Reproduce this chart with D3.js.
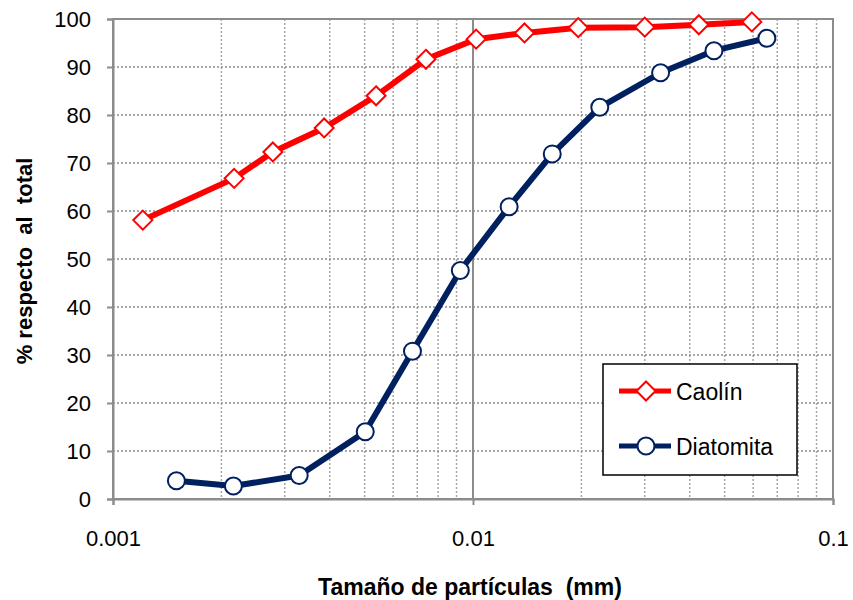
<!DOCTYPE html>
<html>
<head>
<meta charset="utf-8">
<script src="https://cdn.jsdelivr.net/npm/d3@7"></script>
<style>
  body { margin: 0; background: #fff; }
  svg { font-family: "Liberation Sans", Arial, sans-serif; }
</style>
</head>
<body>
<svg id="chart" width="853" height="600"></svg>
<script>
// data
const caolinX = [0.00121, 0.00217, 0.00278, 0.00386, 0.00538, 0.0074, 0.0102, 0.0139, 0.0196, 0.0300, 0.0424, 0.0595];
const caolinY = [58.1, 66.8, 72.3, 77.3, 84.0, 91.6, 95.8, 97.1, 98.2, 98.3, 98.8, 99.4];
const diatX = [0.00150, 0.00216, 0.00329, 0.00502, 0.00679, 0.00922, 0.0126, 0.0166, 0.0225, 0.0332, 0.0467, 0.0655];
const diatY = [3.8, 2.7, 4.9, 14.0, 30.8, 47.6, 60.9, 71.9, 81.6, 88.8, 93.4, 96.0];
const xTicks = [0.001, 0.01, 0.1];
const xTickLabels = ["0.001", "0.01", "0.1"];
const yTicks = [0, 10, 20, 30, 40, 50, 60, 70, 80, 90, 100];

const w = 853, h = 600;
const pLeft = 113, pRight = 833, pTop = 19, pBottom = 499;

const x = d3.scaleLog().domain([0.001, 0.1]).range([pLeft, pRight]);
const y = d3.scaleLinear().domain([0, 100]).range([pBottom, pTop]);

const svg = d3.select("#chart");

// minor vertical grid (2..9 in every decade)
const minor = [];
[0.001, 0.01].forEach(d => { for (let k = 2; k <= 9; k++) minor.push(d * k); });
svg.append("g").selectAll("line")
  .data(minor).enter().append("line")
  .attr("x1", d => x(d)).attr("x2", d => x(d))
  .attr("y1", pTop).attr("y2", pBottom)
  .attr("stroke", "#a6a6a6").attr("stroke-width", 1.5)
  .attr("stroke-dasharray", "2,2");

// horizontal grid
svg.append("g").selectAll("line")
  .data(yTicks.slice(1, -1)).enter().append("line")
  .attr("x1", pLeft).attr("x2", pRight)
  .attr("y1", d => y(d)).attr("y2", d => y(d))
  .attr("stroke", "#8c8c8c").attr("stroke-width", 1.5)
  .attr("stroke-dasharray", "2,2");

// major vertical grid
svg.append("line")
  .attr("x1", x(0.01)).attr("x2", x(0.01))
  .attr("y1", pTop).attr("y2", pBottom)
  .attr("stroke", "#8c8c8c").attr("stroke-width", 2);

// plot border
svg.append("rect")
  .attr("x", pLeft).attr("y", pTop)
  .attr("width", pRight - pLeft).attr("height", pBottom - pTop)
  .attr("fill", "none").attr("stroke", "#8c8c8c").attr("stroke-width", 2);

// axes
const yAxis = d3.axisLeft(y).tickValues(yTicks).tickSize(6).tickPadding(16);
svg.append("g")
  .attr("transform", "translate(" + pLeft + ",0)")
  .call(yAxis)
  .call(g => g.select(".domain").attr("stroke", "#8c8c8c").attr("stroke-width", 2))
  .call(g => g.selectAll(".tick line").attr("stroke", "#8c8c8c").attr("stroke-width", 2))
  .call(g => g.selectAll(".tick text").attr("font-size", 22).attr("fill", "#000")
              .attr("font-family", "Liberation Sans, Arial, sans-serif"));

const xAxis = d3.axisBottom(x).tickValues(xTicks)
  .tickFormat((d, i) => xTickLabels[i]).tickSize(6).tickPadding(25);
svg.append("g")
  .attr("transform", "translate(0," + pBottom + ")")
  .call(xAxis)
  .call(g => g.select(".domain").attr("stroke", "#8c8c8c").attr("stroke-width", 2))
  .call(g => g.selectAll(".tick line").attr("stroke", "#8c8c8c").attr("stroke-width", 2))
  .call(g => g.selectAll(".tick text").attr("font-size", 22).attr("fill", "#000")
              .attr("font-family", "Liberation Sans, Arial, sans-serif"));

// axis titles
svg.append("text")
  .attr("x", 470).attr("y", 595)
  .attr("text-anchor", "middle")
  .attr("font-size", 23).attr("font-weight", "bold")
  .style("white-space", "pre")
  .text("Tamaño de partículas  (mm)");

svg.append("text")
  .attr("transform", "translate(32,261) rotate(-90)")
  .attr("text-anchor", "middle")
  .attr("font-size", 22).attr("font-weight", "bold")
  .style("white-space", "pre")
  .text("% respecto  al  total");

// series
const series = [
  { name: "Caolín", xs: caolinX, ys: caolinY, color: "#ff0000", shape: "diamond" },
  { name: "Diatomita", xs: diatX, ys: diatY, color: "#002060", shape: "circle" }
];

const line = d3.line()
  .x(d => x(d[0]))
  .y(d => y(d[1]));

function marker(g, shape, color) {
  if (shape === "diamond") {
    g.append("path")
      .attr("d", "M0,-9.5L9.5,0L0,9.5L-9.5,0Z")
      .attr("fill", "#fff").attr("stroke", color).attr("stroke-width", 2);
  } else {
    g.append("circle")
      .attr("r", 8.5)
      .attr("fill", "#fff").attr("stroke", color).attr("stroke-width", 2);
  }
}

series.forEach(s => {
  const pts = s.xs.map((v, i) => [v, s.ys[i]]);
  svg.append("path")
    .datum(pts)
    .attr("fill", "none")
    .attr("stroke", s.color)
    .attr("stroke-width", 6)
    .attr("stroke-linejoin", "round")
    .attr("d", line);
  svg.append("g").selectAll("g")
    .data(pts).enter().append("g")
    .attr("transform", d => "translate(" + x(d[0]) + "," + y(d[1]) + ")")
    .each(function () { marker(d3.select(this), s.shape, s.color); });
});

// legend
const legend = svg.append("g");
legend.append("rect")
  .attr("x", 603).attr("y", 364).attr("width", 194).attr("height", 111)
  .attr("fill", "#fff").attr("stroke", "#000").attr("stroke-width", 1.5);
series.forEach((s, i) => {
  const ly = 391 + i * 55;
  legend.append("line")
    .attr("x1", 619).attr("x2", 671).attr("y1", ly).attr("y2", ly)
    .attr("stroke", s.color).attr("stroke-width", 5);
  const m = legend.append("g").attr("transform", "translate(646," + ly + ")");
  marker(m, s.shape, s.color);
  legend.append("text")
    .attr("x", 676).attr("y", ly + 9)
    .attr("font-size", 23)
    .text(s.name);
});
</script>
</body>
</html>
